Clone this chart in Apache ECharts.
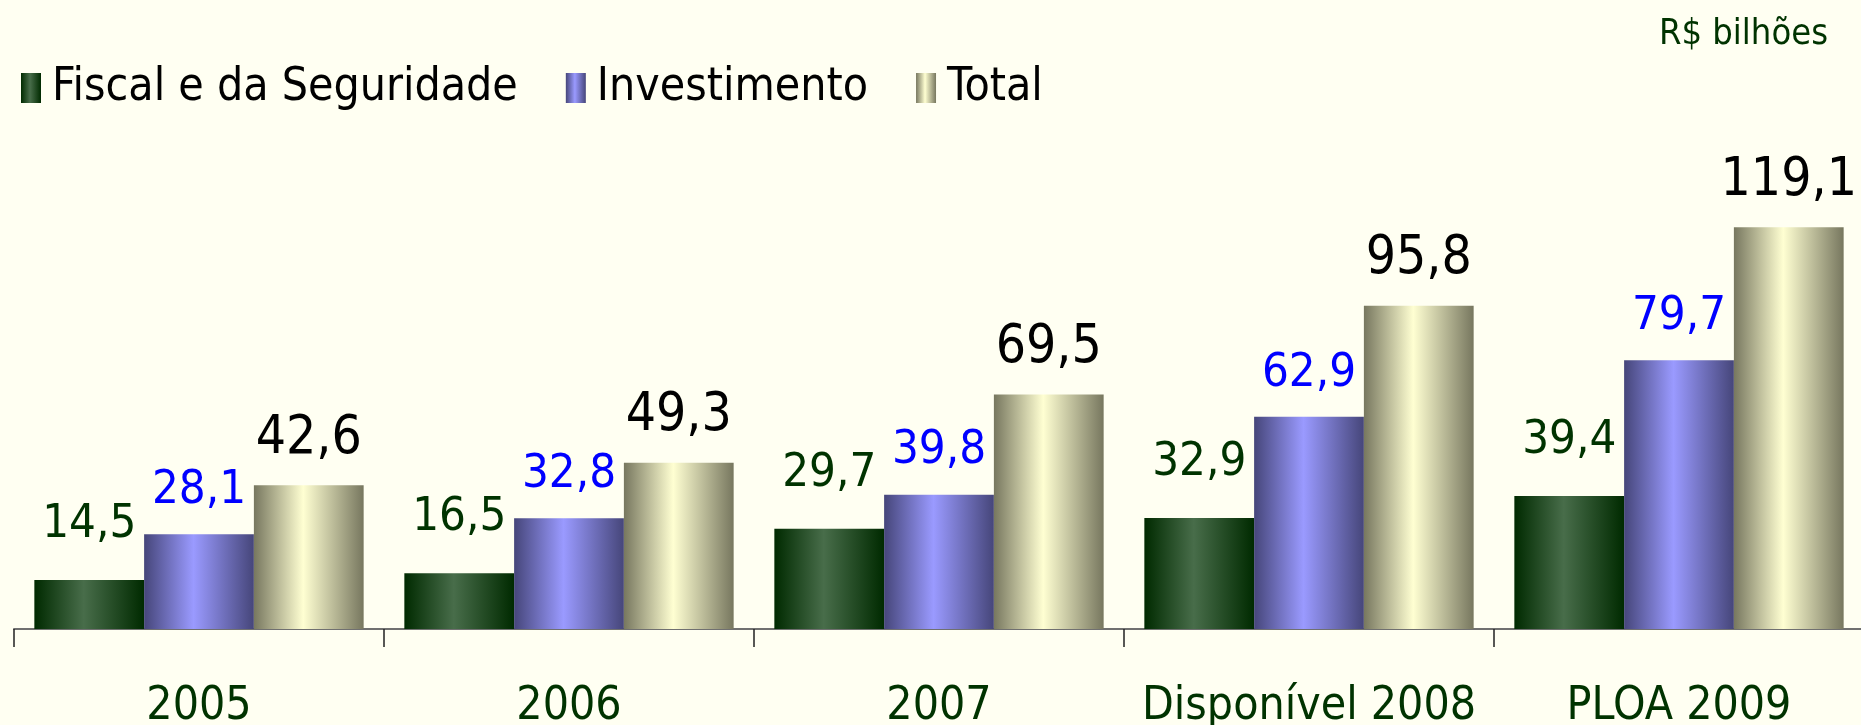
<!DOCTYPE html>
<html lang="pt">
<head>
    <meta charset="UTF-8">
    <title>Orçamento - R$ bilhões</title>
    <style>
        html, body { margin: 0; padding: 0; background: #fffff2; }
        .bar { width: 1861px; height: 725px; }
    </style>
    <script src="https://cdn.jsdelivr.net/npm/echarts@6/dist/echarts.min.js"></script>
</head>
<body>
    <div class="bar"></div>
    <script>
        // dados (R$ bilhões)
        var categorias = ['2005', '2006', '2007', 'Disponível 2008', 'PLOA 2009'];
        var fiscal = [14.5, 16.5, 29.7, 32.9, 39.4];
        var investimento = [28.1, 32.8, 39.8, 62.9, 79.7];
        var total = [42.6, 49.3, 69.5, 95.8, 119.1];

        var fonteEstreita = '"DejaVu Sans Condensed", "Liberation Sans Narrow", "DejaVu Sans", sans-serif';

        // gradiente horizontal de cilindro
        function cilindro(borda, centro) {
            return new echarts.graphic.LinearGradient(0, 0, 1, 0, [
                {offset: 0, color: borda},
                {offset: 0.45, color: centro},
                {offset: 1, color: borda}
            ]);
        }

        function virgula(p) {
            return p.value.toFixed(1).replace('.', ',');
        }

        var option = {
            backgroundColor: '#fffff2',
            animation: false,
            title: {
                text: 'R$ bilhões',
                right: 28,
                top: 12,
                textStyle: {
                    color: '#003300',
                    fontFamily: fonteEstreita,
                    fontWeight: 'normal',
                    fontSize: 36
                }
            },
            legend: {
                left: 16,
                top: 60,
                icon: 'rect',
                itemWidth: 20,
                itemHeight: 30,
                itemGap: 48,
                textStyle: {
                    color: '#000',
                    fontFamily: fonteEstreita,
                    fontSize: 46,
                    padding: [0, 0, 0, 6]
                },
                data: ['Fiscal e da Seguridade', 'Investimento', 'Total']
            },
            grid: {
                left: 14,
                right: -3,
                top: 123,
                bottom: 96,
                outerBoundsMode: 'none'
            },
            xAxis: {
                type: 'category',
                data: categorias,
                axisLine: {lineStyle: {color: '#707070', width: 2}},
                axisTick: {
                    show: true,
                    interval: 0,
                    inside: false,
                    length: 18,
                    lineStyle: {color: '#222', width: 1.5}
                },
                axisLabel: {
                    interval: 0,
                    color: '#003300',
                    fontFamily: fonteEstreita,
                    fontSize: 46,
                    margin: 55
                }
            },
            yAxis: {
                type: 'value',
                min: 0,
                max: 150,
                show: false
            },
            series: [
                {
                    name: 'Fiscal e da Seguridade',
                    type: 'bar',
                    data: fiscal,
                    barGap: '0%',
                    barCategoryGap: '11%',
                    itemStyle: {color: cilindro('#002a00', '#486d4a')},
                    label: {
                        show: true,
                        position: 'top',
                        distance: 32,
                        color: '#003300',
                        fontFamily: fonteEstreita,
                        fontSize: 47,
                        formatter: virgula
                    }
                },
                {
                    name: 'Investimento',
                    type: 'bar',
                    data: investimento,
                    barGap: '0%',
                    barCategoryGap: '11%',
                    itemStyle: {color: cilindro('#46467a', '#9a9aff')},
                    label: {
                        show: true,
                        position: 'top',
                        distance: 20,
                        color: '#0000ff',
                        fontFamily: fonteEstreita,
                        fontSize: 47,
                        formatter: virgula
                    }
                },
                {
                    name: 'Total',
                    type: 'bar',
                    data: total,
                    barGap: '0%',
                    barCategoryGap: '11%',
                    itemStyle: {color: cilindro('#77775f', '#ffffd2')},
                    label: {
                        show: true,
                        position: 'top',
                        distance: 20,
                        color: '#000000',
                        fontFamily: fonteEstreita,
                        fontSize: 53,
                        formatter: virgula
                    }
                }
            ]
        };

        var grafico = echarts.init(document.querySelector('.bar'));
        grafico.setOption(option);
    </script>
</body>
</html>
